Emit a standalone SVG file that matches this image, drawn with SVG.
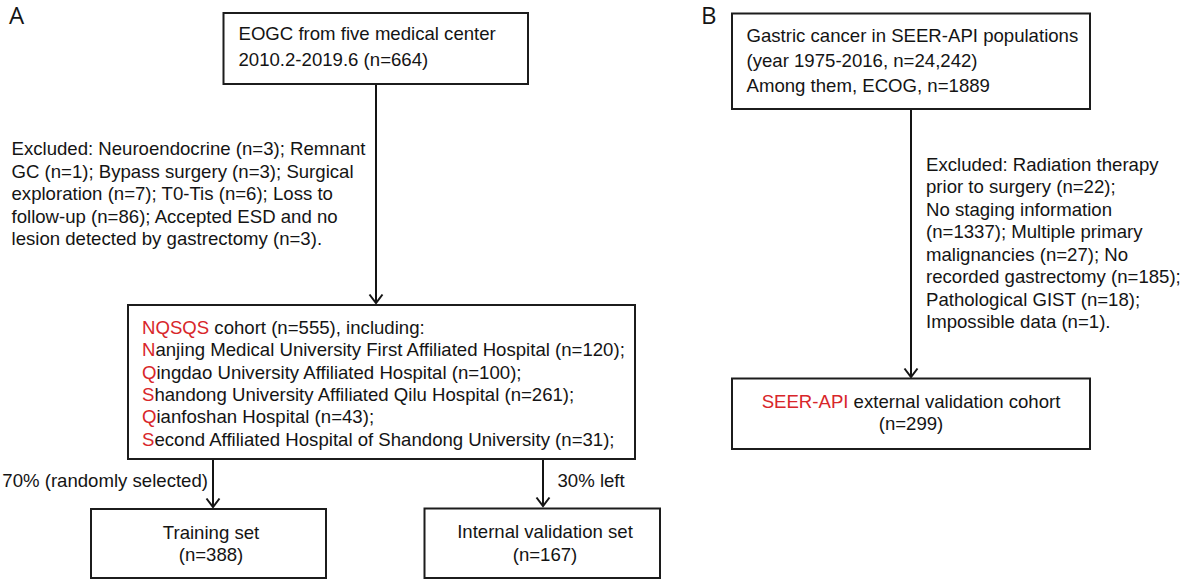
<svg xmlns="http://www.w3.org/2000/svg" width="1181" height="579" viewBox="0 0 1181 579">
<style>
.bg{fill:#ffffff}
.box{fill:#ffffff;stroke:#1c1c1c;stroke-width:2}
.t{font-family:"Liberation Sans",Arial,sans-serif;font-size:18.6px;fill:#141414}
.c{text-anchor:middle}
.r{fill:#d8262a}
.lab{font-family:"Open Sans","Liberation Sans",sans-serif;font-size:24px;fill:#141414}
.ln{stroke:#141414;stroke-width:2;fill:none}
.ah{stroke:#141414;stroke-width:2;fill:none}
</style>
<defs>
<marker id="arr" markerUnits="userSpaceOnUse" markerWidth="14" markerHeight="18" viewBox="-11 -9 13 18" refX="0" refY="0" orient="auto">
<path class="ah" d="M-8.5,-6.5 L0,0 L-8.5,6.5"/>
</marker>
</defs>
<rect class="bg" x="0" y="0" width="1181" height="579"/>
<text class="lab" x="9" y="24">A</text>
<text class="lab" x="701" y="24">B</text>

<g id="connectors">
<line class="ln" x1="376" y1="84" x2="376" y2="303" marker-end="url(#arr)"/>
<line class="ln" x1="213" y1="459" x2="213" y2="507" marker-end="url(#arr)"/>
<line class="ln" x1="543" y1="459" x2="543" y2="506" marker-end="url(#arr)"/>
<line class="ln" x1="911" y1="109" x2="911" y2="377" marker-end="url(#arr)"/>
<text class="t" x="11.5" y="155">Excluded: Neuroendocrine (n=3); Remnant</text>
<text class="t" x="11.5" y="177.5">GC (n=1); Bypass surgery (n=3); Surgical</text>
<text class="t" x="11.5" y="200">exploration (n=7); T0-Tis (n=6); Loss to</text>
<text class="t" x="11.5" y="222.5">follow-up (n=86); Accepted ESD and no</text>
<text class="t" x="11.5" y="245">lesion detected by gastrectomy (n=3).</text>
<text class="t" x="208" y="487" text-anchor="end">70% (randomly selected)</text>
<text class="t" x="557.5" y="487">30% left</text>
<text class="t" x="926" y="170.5">Excluded: Radiation therapy</text>
<text class="t" x="926" y="193">prior to surgery (n=22);</text>
<text class="t" x="926" y="215.5">No staging information</text>
<text class="t" x="926" y="238">(n=1337); Multiple primary</text>
<text class="t" x="926" y="260.5">malignancies (n=27); No</text>
<text class="t" x="926" y="283">recorded gastrectomy (n=185);</text>
<text class="t" x="926" y="305.5">Pathological GIST (n=18);</text>
<text class="t" x="926" y="328">Impossible data (n=1).</text>
</g>

<g id="eogc">
<rect class="box" x="223.5" y="13" width="304.5" height="71"/>
<text class="t" x="238.5" y="40">EOGC from five medical center</text>
<text class="t" x="238.5" y="66">2010.2-2019.6 (n=664)</text>
</g>

<g id="nqsqs">
<rect class="box" x="128" y="305" width="507" height="154"/>
<text class="t" x="142" y="334"><tspan class="r">NQSQS</tspan> cohort (n=555), including:</text>
<text class="t" x="142" y="356.3"><tspan class="r">N</tspan>anjing Medical University First Affiliated Hospital (n=120);</text>
<text class="t" x="142" y="378.6"><tspan class="r">Q</tspan>ingdao University Affiliated Hospital (n=100);</text>
<text class="t" x="142" y="401"><tspan class="r">S</tspan>handong University Affiliated Qilu Hospital (n=261);</text>
<text class="t" x="142" y="423.3"><tspan class="r">Q</tspan>ianfoshan Hospital (n=43);</text>
<text class="t" x="142" y="445.6"><tspan class="r">S</tspan>econd Affiliated Hospital of Shandong University (n=31);</text>
</g>

<g id="training">
<rect class="box" x="91" y="509" width="235" height="69"/>
<text class="t c" x="211" y="538.5">Training set</text>
<text class="t c" x="211" y="561">(n=388)</text>
</g>

<g id="internal">
<rect class="box" x="424.5" y="508.5" width="235.5" height="69.5"/>
<text class="t c" x="545" y="538">Internal validation set</text>
<text class="t c" x="545" y="560.5">(n=167)</text>
</g>

<g id="seer">
<rect class="box" x="732" y="13.5" width="358" height="95.5"/>
<text class="t" x="746.5" y="42">Gastric cancer in SEER-API populations</text>
<text class="t" x="746.5" y="67">(year 1975-2016, n=24,242)</text>
<text class="t" x="746.5" y="92">Among them, ECOG, n=1889</text>
</g>

<g id="seer-ext">
<rect class="box" x="732" y="378.5" width="358" height="70.5"/>
<text class="t c" x="911" y="407.5"><tspan class="r">SEER-API</tspan> external validation cohort</text>
<text class="t c" x="911" y="430">(n=299)</text>
</g>
</svg>
